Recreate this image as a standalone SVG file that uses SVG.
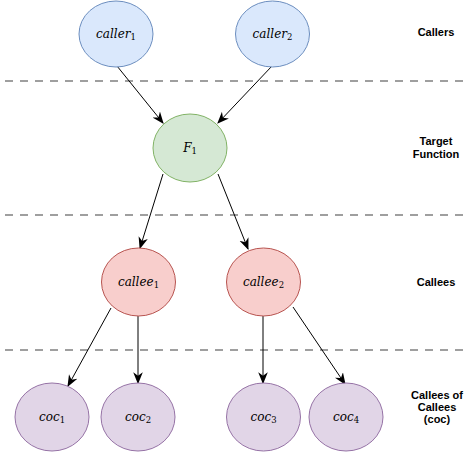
<svg xmlns="http://www.w3.org/2000/svg" width="464" height="454" viewBox="0 0 464 454">
<style>
.sep{stroke:#808080;stroke-width:1.5;stroke-dasharray:8 7;fill:none}
.blue{fill:#dae8fc;stroke:#6c8ebf;stroke-width:1}
.green{fill:#d5e8d4;stroke:#82b366;stroke-width:1}
.red{fill:#f8cecc;stroke:#b85450;stroke-width:1}
.purple{fill:#e1d5e7;stroke:#9673a6;stroke-width:1}
.math{font-family:"DejaVu Serif","Liberation Serif",serif;font-style:italic;font-size:12px;fill:#000}
.sub{font-style:normal;font-size:8.5px}
.lbl{font-family:"Liberation Sans",Arial,sans-serif;font-weight:bold;font-size:11px;fill:#000;text-anchor:middle}
.edge{stroke:#000;stroke-width:1;fill:none;marker-end:url(#arr)}
</style>
<defs>
<marker id="arr" markerUnits="userSpaceOnUse" markerWidth="12" markerHeight="12" viewBox="0 0 10 10" refX="9" refY="5" orient="auto">
<path d="M0,1 L10,5 L0,9 L3,5 z" fill="#000"/>
</marker>
</defs>
<g id="separators">
<line class="sep" x1="5" y1="81" x2="464" y2="81"/>
<line class="sep" x1="5" y1="215" x2="464" y2="215"/>
<line class="sep" x1="5" y1="350" x2="464" y2="350"/>
</g>
<g id="connectors">
<line class="edge" x1="117" y1="66" x2="163" y2="123"/>
<line class="edge" x1="272" y1="66" x2="218" y2="123"/>
<line class="edge" x1="163" y1="174" x2="140" y2="248"/>
<line class="edge" x1="218" y1="174" x2="248" y2="249"/>
<line class="edge" x1="111" y1="308" x2="68" y2="386"/>
<line class="edge" x1="138" y1="316" x2="138" y2="383"/>
<line class="edge" x1="263" y1="316" x2="263" y2="383"/>
<line class="edge" x1="293" y1="307" x2="345" y2="384"/>
</g>
<g id="caller1"><ellipse class="blue" cx="116" cy="34" rx="37" ry="33"/><text class="math" x="116" y="38" text-anchor="middle">caller<tspan class="sub" dy="2">1</tspan></text></g>
<g id="caller2"><ellipse class="blue" cx="272.5" cy="34" rx="37" ry="33"/><text class="math" x="272.5" y="38" text-anchor="middle">caller<tspan class="sub" dy="2">2</tspan></text></g>
<g id="F1"><ellipse class="green" cx="190" cy="148" rx="37" ry="34"/><text class="math" x="190" y="152" text-anchor="middle">F<tspan class="sub" dy="2">1</tspan></text></g>
<g id="callee1"><ellipse class="red" cx="138.5" cy="282" rx="37" ry="34"/><text class="math" x="138.5" y="286" text-anchor="middle">callee<tspan class="sub" dy="2">1</tspan></text></g>
<g id="callee2"><ellipse class="red" cx="263.5" cy="282" rx="37" ry="34"/><text class="math" x="263.5" y="286" text-anchor="middle">callee<tspan class="sub" dy="2">2</tspan></text></g>
<g id="coc1"><ellipse class="purple" cx="52" cy="417" rx="37" ry="34"/><text class="math" x="52" y="421" text-anchor="middle">coc<tspan class="sub" dy="2">1</tspan></text></g>
<g id="coc2"><ellipse class="purple" cx="138" cy="417" rx="37" ry="34"/><text class="math" x="138" y="421" text-anchor="middle">coc<tspan class="sub" dy="2">2</tspan></text></g>
<g id="coc3"><ellipse class="purple" cx="263.5" cy="417" rx="37" ry="34"/><text class="math" x="263.5" y="421" text-anchor="middle">coc<tspan class="sub" dy="2">3</tspan></text></g>
<g id="coc4"><ellipse class="purple" cx="346" cy="417" rx="37" ry="34"/><text class="math" x="346" y="421" text-anchor="middle">coc<tspan class="sub" dy="2">4</tspan></text></g>
<g id="labels">
<text class="lbl" x="436" y="36">Callers</text>
<text class="lbl" x="436" y="145">Target</text>
<text class="lbl" x="436" y="158">Function</text>
<text class="lbl" x="436" y="286">Callees</text>
<text class="lbl" x="437" y="399">Callees of</text>
<text class="lbl" x="437" y="411">Callees</text>
<text class="lbl" x="437" y="423">(coc)</text>
</g>
</svg>
